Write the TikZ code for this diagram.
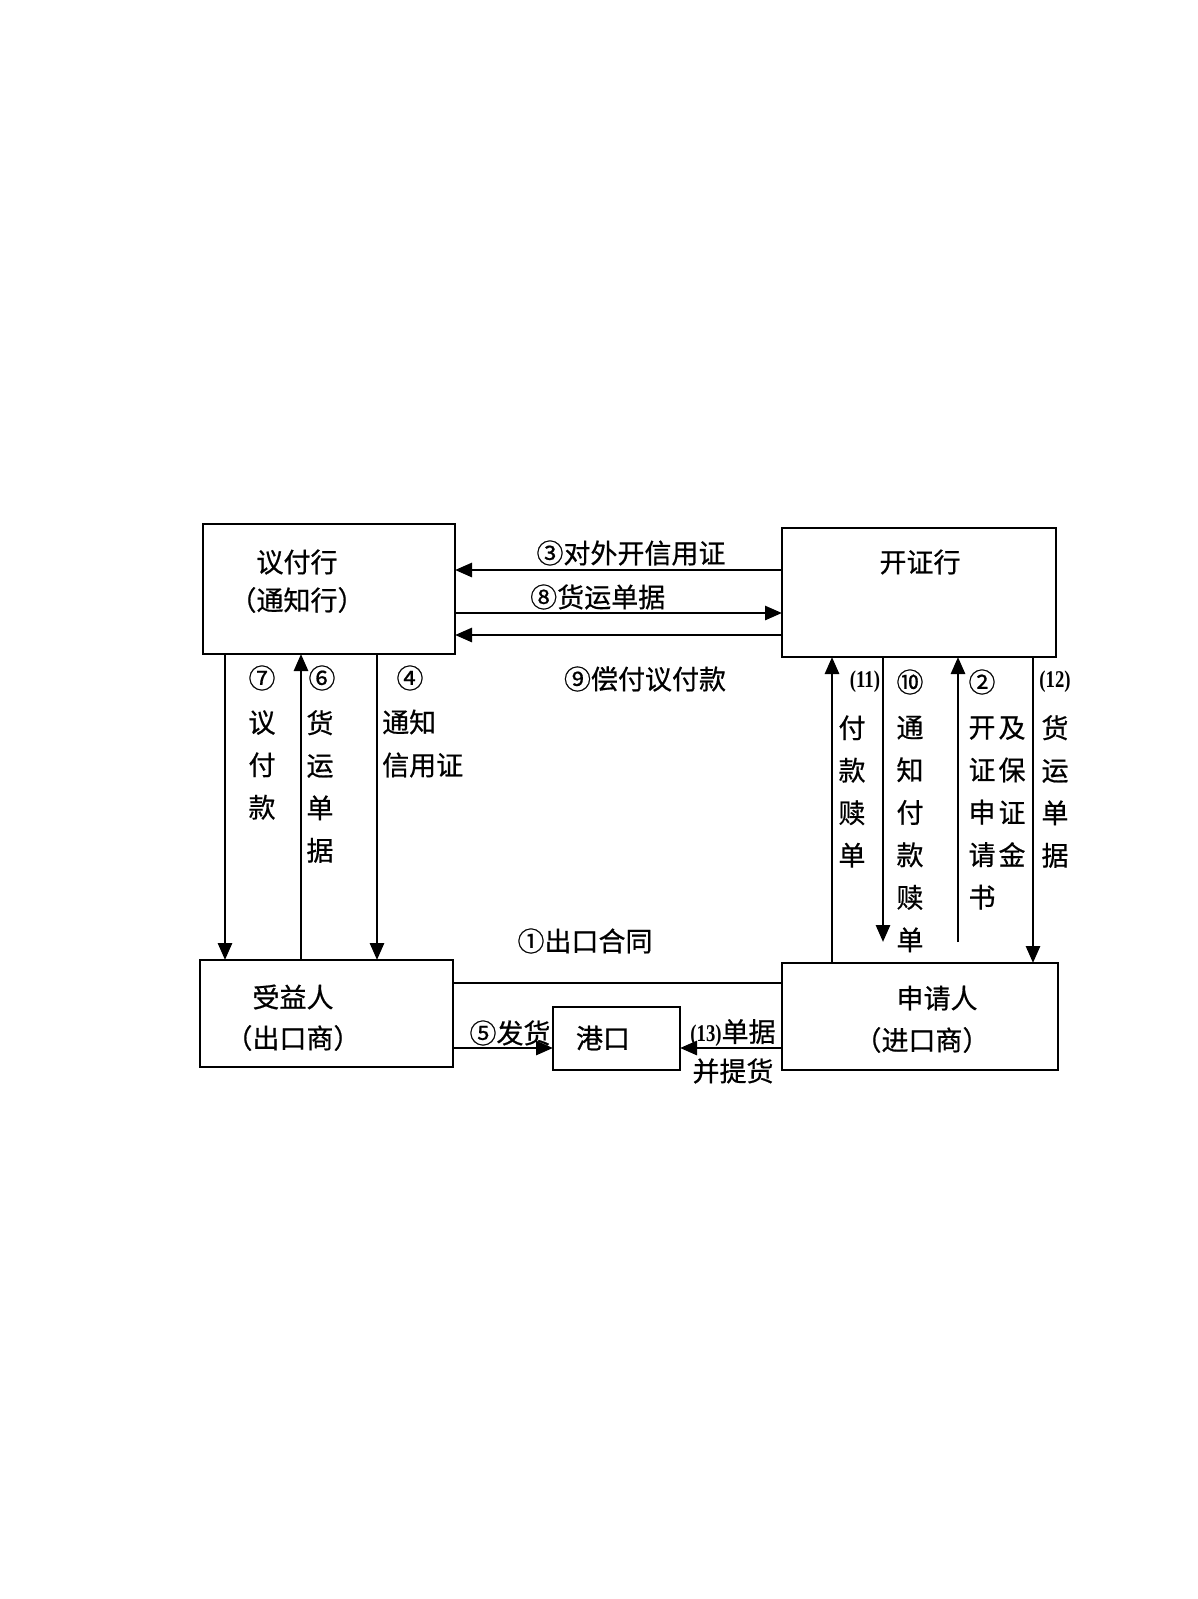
\documentclass[tikz,border=0pt]{standalone}
\usepackage{fontspec}
\setmainfont{Noto Sans CJK SC}[FakeBold=0.6]
\newfontfamily\numf{Liberation Serif Bold}[FakeStretch=0.78]
\usetikzlibrary{arrows.meta}
\begin{document}
\begin{tikzpicture}[x=1pt,y=-1pt,
  box/.style={draw,line width=2.8pt,inner sep=0pt,outer sep=0pt},
  lbl/.style={inner sep=0pt,font=\fontsize{27}{42.5}\selectfont},
  vlbl/.style={lbl,align=center},
  ln/.style={line width=2.8pt},
  arr/.style={ln,-{Triangle[length=17pt,width=14pt]}},
  num/.style={inner sep=0pt,font=\fontsize{24}{24}\numf}]
\fill[white] (0,0) rectangle (1198,1599);
\useasboundingbox (0,0) rectangle (1198,1599);

% boxes
\node[box,minimum width=252pt,minimum height=130pt] (yf) at (329,589) {};
\node[box,minimum width=274pt,minimum height=129pt] (kz) at (919,592.5) {};
\node[box,minimum width=253pt,minimum height=107pt] (sy) at (326.5,1013.5) {};
\node[box,minimum width=276pt,minimum height=107pt] (sq) at (920,1016.5) {};
\node[box,minimum width=127pt,minimum height=63pt] (gk) at (616.5,1038.5) {};

% box texts
\node[lbl] (yfa) at (297,562) {议付行};
\node[lbl] (yfb) at (297,600) {（通知行）};
\node[lbl] (kza) at (920,562) {开证行};
\node[lbl] (sya) at (293,997) {受益人};
\node[lbl] (syb) at (293,1038) {（出口商）};
\node[lbl] (sqa) at (937,998) {申请人};
\node[lbl] (sqb) at (922,1040) {（进口商）};
\node[lbl] (gka) at (603,1038) {港口};

% helper coordinates
\coordinate (h3) at (0,570);
\coordinate (h8) at (0,613);
\coordinate (h9) at (0,635);
\coordinate (h1) at (0,983);
\coordinate (h5) at (0,1048);
\coordinate (v7) at (225,0);
\coordinate (v6) at (301,0);
\coordinate (v4) at (377,0);
\coordinate (v11) at (832,0);
\coordinate (v10) at (883,0);
\coordinate (v2) at (958,0);
\coordinate (v12) at (1033,0);
\coordinate (e10) at (883,942);
\coordinate (e2) at (958,942);

% top connectors
\draw[arr] (kz.west |- h3) -- (yf.east |- h3);
\draw[arr] (yf.east |- h8) -- (kz.west |- h8);
\draw[arr] (kz.west |- h9) -- (yf.east |- h9);

% left verticals
\draw[arr] (yf.south -| v7) -- (sy.north -| v7);
\draw[arr] (sy.north -| v6) -- (yf.south -| v6);
\draw[arr] (yf.south -| v4) -- (sy.north -| v4);

% right verticals
\draw[arr] (sq.north -| v11) -- (kz.south -| v11);
\draw[arr] (kz.south -| v10) -- (e10);
\draw[arr] (e2) -- (kz.south -| v2);
\draw[arr] (kz.south -| v12) -- (sq.north -| v12);

% bottom connectors
\draw[ln] (sy.east |- h1) -- (sq.west |- h1);
\draw[arr] (sy.east |- h5) -- (gk.west |- h5);
\draw[arr] (sq.west |- h5) -- (gk.east |- h5);

% top labels
\node[lbl] (l3) at (631,553) {③对外开信用证};
\node[lbl,anchor=west] (l8) at (530,597) {⑧货运单据};
\node[lbl] (l9) at (645,679) {⑨偿付议付款};

% left labels
\node[lbl] (n7) at (262,678) {⑦};
\node[vlbl] (t7) at (262,765) {议\\付\\款};
\node[lbl] (n6) at (322,678) {⑥};
\node[vlbl] (t6) at (320,786.5) {货\\运\\单\\据};
\node[lbl] (n4) at (410,678) {④};
\node[lbl,anchor=west] (t4a) at (382,722) {通知};
\node[lbl,anchor=west] (t4b) at (382,765) {信用证};

% right labels
\node[num] (n11) at (865,682) {(11)};
\node[vlbl] (t11) at (852,791.5) {付\\款\\赎\\单};
\node[lbl] (n10) at (910,682) {⑩};
\node[vlbl] (t10) at (910,834) {通\\知\\付\\款\\赎\\单};
\node[lbl] (n2) at (982,682) {②};
\node[vlbl] (t2a) at (982,813) {开\\证\\申\\请\\书};
\node[vlbl] (t2b) at (1012,791.5) {及\\保\\证\\金};
\node[num] (n12) at (1055,682) {(12)};
\node[vlbl] (t12) at (1055,791.5) {货\\运\\单\\据};

% bottom labels
\node[lbl] (l1) at (585,941) {①出口合同};
\node[lbl] (l5) at (510,1033) {⑤发货};
\node[lbl] (l13) at (733,1033) {{\fontsize{24}{24}\numf (13)}单据};
\node[lbl] (l13b) at (733,1071) {并提货};
\end{tikzpicture}
\end{document}
